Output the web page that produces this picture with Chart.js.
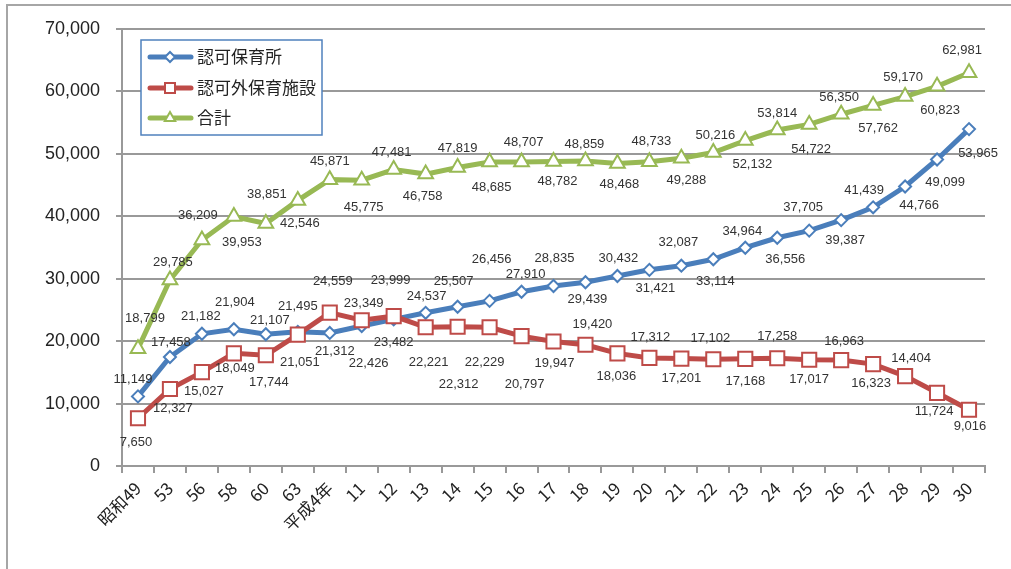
<!DOCTYPE html>
<html>
<head>
<meta charset="utf-8">
<script src="https://cdn.jsdelivr.net/npm/chart.js@4/dist/chart.umd.min.js"></script>
<style>
html,body{margin:0;padding:0;background:#fff;}
#wrap{width:1011px;height:569px;}
</style>
</head>
<body>
<div id="wrap"><canvas id="c" width="1011" height="569"></canvas></div>
<script>
const categories = ['昭和49','53','56','58','60','63','平成4年','11','12','13','14','15','16','17','18','19','20','21','22','23','24','25','26','27','28','29','30'];
const ninka = [11149,17458,21182,21904,21107,21495,21312,22426,23482,24537,25507,26456,27910,28835,29439,30432,31421,32087,33114,34964,36556,37705,39387,41439,44766,49099,53965];
const ninkagai = [7650,12327,15027,18049,17744,21051,24559,23349,23999,22221,22312,22229,20797,19947,19420,18036,17312,17201,17102,17168,17258,17017,16963,16323,14404,11724,9016];
const goukei = [18799,29785,36209,39953,38851,42546,45871,45775,47481,46758,47819,48685,48707,48782,48859,48468,48733,49288,50216,52132,53814,54722,56350,57762,59170,60823,62981];
const yTicks = [0,10000,20000,30000,40000,50000,60000,70000];
const seriesNames = ['認可保育所','認可外保育施設','合計'];

// label offsets (px) relative to each point, [dx, dy]
const offNinka = [[-5,-17],[1,-15],[-1,-17],[1,-27],[4,-14],[0,-25],[5,18],[7,37],[0,23],[1,-16],[-4,-25],[2,-41],[4,-17],[1,-28],[2,17],[1,-18],[6,19],[-3,-23],[2,22],[-3,-16],[8,22],[-6,-23],[4,20],[-9,-17],[14,19],[8,23],[9,24]];
const offNinkagai = [[-2,24],[3,19],[2,19],[1,15],[3,27],[2,28],[3,-31],[2,-17],[-3,-36],[3,35],[1,58],[-5,35],[3,48],[1,22],[7,-20],[-1,23],[1,-21],[0,20],[-3,-21],[0,23],[0,-22],[0,20],[3,-19],[-2,19],[6,-18],[-3,19],[1,17]];
const offGoukei = [[7,-30],[3,-18],[-4,-25],[8,26],[1,-29],[2,23],[0,-18],[2,27],[-2,-17],[-3,22],[0,-19],[2,25],[2,-20],[4,20],[-1,-17],[2,21],[2,-20],[5,22],[2,-17],[7,24],[0,-17],[2,25],[-2,-17],[5,23],[-2,-19],[3,24],[-7,-22]];

const BLUE='#4A7EBB', RED='#BE4B48', GREEN='#98B954';
const fmt = v => v.toLocaleString('en-US');

const bgPlugin = {
  id:'bg',
  beforeDraw(chart){
    const ctx = chart.ctx;
    ctx.save();
    ctx.fillStyle='#fff';
    ctx.fillRect(0,0,chart.width,chart.height);
    ctx.strokeStyle='#a6a6a6';
    ctx.lineWidth=2;
    ctx.strokeRect(7,5,1030,600);
    ctx.restore();
  }
};

const labelPlugin = {
  id:'dlabels',
  afterDatasetsDraw(chart){
    const ctx = chart.ctx;
    const offs = [offNinka, offNinkagai, offGoukei];
    ctx.save();
    ctx.font = '13px "Liberation Sans", Arial, sans-serif';
    ctx.fillStyle = '#333';
    ctx.textAlign = 'center';
    ctx.textBaseline = 'middle';
    chart.data.datasets.forEach((ds, di) => {
      const meta = chart.getDatasetMeta(di);
      meta.data.forEach((pt, i) => {
        const o = offs[di][i];
        ctx.fillText(fmt(ds.data[i]), pt.x + o[0], pt.y + o[1]);
      });
    });
    ctx.restore();
  }
};

function drawMarker(ctx, style, x, y, color){
  ctx.save();
  ctx.fillStyle='#fff';
  ctx.strokeStyle=color;
  ctx.lineWidth=2;
  ctx.beginPath();
  if(style==='rectRot'){
    const r=5;
    ctx.moveTo(x-r,y);ctx.lineTo(x,y-r);ctx.lineTo(x+r,y);ctx.lineTo(x,y+r);ctx.closePath();
  } else if(style==='rect'){
    const s=5;
    ctx.rect(x-s,y-s,2*s,2*s);
  } else {
    const r=6;
    ctx.moveTo(x,y-r);ctx.lineTo(x+0.866*r,y+0.5*r);ctx.lineTo(x-0.866*r,y+0.5*r);ctx.closePath();
  }
  ctx.fill();ctx.stroke();
  ctx.restore();
}

const legendPlugin = {
  id:'boxlegend',
  afterDraw(chart){
    const ctx = chart.ctx;
    ctx.save();
    ctx.fillStyle='#fff';
    ctx.fillRect(141,40,181,95);
    ctx.strokeStyle='#4F81BD';
    ctx.lineWidth=1.5;
    ctx.strokeRect(141,40,181,95);
    const items = [
      {c:BLUE, s:'rectRot', y:57},
      {c:RED, s:'rect', y:88},
      {c:GREEN, s:'triangle', y:118}
    ];
    items.forEach((it, i) => {
      ctx.strokeStyle=it.c;
      ctx.lineWidth=5;
      ctx.lineCap='round';
      ctx.beginPath();
      ctx.moveTo(150,it.y);ctx.lineTo(191,it.y);ctx.stroke();
      drawMarker(ctx,it.s,170,it.y,it.c);
      ctx.fillStyle='#222';
      ctx.font='17px "Noto Sans CJK JP", sans-serif';
      ctx.textAlign='left';
      ctx.textBaseline='middle';
      ctx.fillText(seriesNames[i],197,it.y);
    });
    ctx.restore();
  }
};

new Chart(document.getElementById('c'), {
  type:'line',
  data:{
    labels:categories,
    datasets:[
      {label:seriesNames[0], data:ninka, borderColor:BLUE, backgroundColor:'#fff', borderWidth:5, pointStyle:'rectRot', pointRadius:6, pointBorderWidth:2, pointBackgroundColor:'#fff', pointBorderColor:BLUE, tension:0, order:1},
      {label:seriesNames[1], data:ninkagai, borderColor:RED, backgroundColor:'#fff', borderWidth:5, pointStyle:'rect', pointRadius:10, pointBorderWidth:2, pointBackgroundColor:'#fff', pointBorderColor:RED, tension:0, order:0},
      {label:seriesNames[2], data:goukei, borderColor:GREEN, backgroundColor:'#fff', borderWidth:5, pointStyle:'triangle', pointRadius:8.5, pointBorderWidth:2, pointBackgroundColor:'#fff', pointBorderColor:GREEN, tension:0, order:2}
    ]
  },
  options:{
    responsive:false,
    animation:false,
    layout:{padding:{top:29,right:26,left:0,bottom:0}},
    plugins:{legend:{display:false}, tooltip:{enabled:false}},
    scales:{
      x:{
        offset:true,
        grid:{offset:true, drawOnChartArea:false, drawTicks:true, tickLength:7, color:'#999', lineWidth:2},
        border:{color:'#999', width:2},
        ticks:{minRotation:45, maxRotation:45, autoSkip:false, color:'#222', padding:5, font:{size:17, family:'"Noto Sans CJK JP", sans-serif'}},
        afterFit(s){ s.height = 103; }
      },
      y:{
        min:0, max:70000,
        afterBuildTicks(s){ s.ticks = yTicks.map(v => ({value:v})); },
        grid:{color:'#999', lineWidth:2, tickLength:6},
        border:{color:'#999', width:2},
        ticks:{color:'#222', padding:16, font:{size:18, family:'"Liberation Sans", Arial, sans-serif'}, callback:v => fmt(v)},
        afterFit(s){ s.width = 122; }
      }
    }
  },
  plugins:[bgPlugin, labelPlugin, legendPlugin]
});
</script>
</body>
</html>
